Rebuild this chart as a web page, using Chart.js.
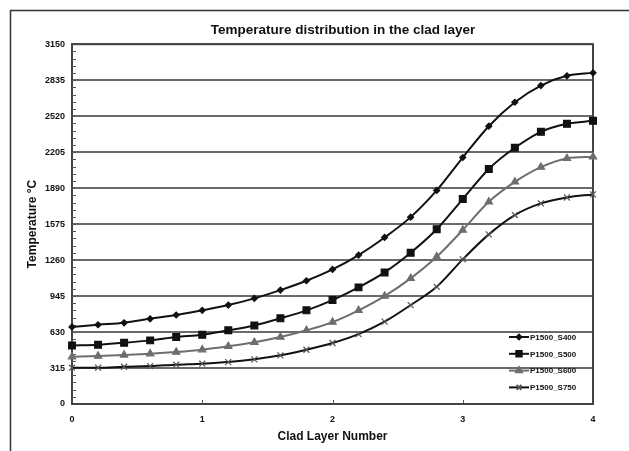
<!DOCTYPE html>
<html>
<head>
<meta charset="utf-8">
<script src="https://cdn.jsdelivr.net/npm/chart.js@4.4.1/dist/chart.umd.min.js"></script>
<style>
  html, body { margin: 0; padding: 0; background: #ffffff; }
  #wrap { width: 629px; height: 451px; }
</style>
</head>
<body>
<div id="wrap"><canvas id="chart" width="629" height="451"></canvas></div>
<script>
// Clad layer positions (x) and temperatures (°C) for each process setting
const layerPositions = [0, 0.2, 0.4, 0.6, 0.8, 1.0, 1.2, 1.4, 1.6, 1.8, 2.0, 2.2, 2.4, 2.6, 2.8, 3.0, 3.2, 3.4, 3.6, 3.8, 4.0];
const seriesNames = ['P1500_S400', 'P1500_S500', 'P1500_S600', 'P1500_S750'];
const tempS400 = [675, 694, 711, 746, 779, 820, 866, 925, 997, 1079, 1178, 1304, 1458, 1636, 1870, 2158, 2432, 2642, 2788, 2873, 2899];
const tempS500 = [513, 519, 536, 557, 586, 606, 645, 688, 750, 820, 910, 1021, 1152, 1324, 1530, 1794, 2058, 2243, 2383, 2453, 2479];
const tempS600 = [414, 420, 429, 440, 455, 475, 505, 540, 586, 645, 717, 820, 945, 1100, 1289, 1523, 1770, 1945, 2074, 2150, 2164];
const tempS750 = [318, 318, 326, 332, 344, 353, 367, 391, 426, 475, 534, 612, 721, 866, 1026, 1266, 1485, 1654, 1756, 1808, 1835];
const yTickValues = [0, 315, 630, 945, 1260, 1575, 1890, 2205, 2520, 2835, 3150];
const xTickValues = [0, 1, 2, 3, 4];
const yMinorStep = 63;

const FONT = "'Liberation Sans', Arial, sans-serif";

function toPoints(values) {
  return values.map((v, i) => ({ x: layerPositions[i], y: v }));
}

const styles = [
  { color: '#111111', pointColor: '#111111', pointStyle: 'rectRot', radius: 3 },
  { color: '#111111', pointColor: '#111111', pointStyle: 'rect', radius: 4.8 },
  { color: '#6e6e6e', pointColor: '#6e6e6e', pointStyle: 'triangle', radius: 4.2 },
  { color: '#111111', pointColor: '#555555', pointStyle: 'crossRot', radius: 4.2 }
];
const seriesValues = [tempS400, tempS500, tempS600, tempS750];

const datasets = seriesValues.map((vals, i) => ({
  label: seriesNames[i],
  data: toPoints(vals),
  borderColor: styles[i].color,
  backgroundColor: styles[i].pointColor,
  pointBackgroundColor: styles[i].pointColor,
  pointBorderColor: styles[i].pointColor,
  pointStyle: styles[i].pointStyle,
  pointRadius: styles[i].radius,
  pointBorderWidth: 1.2,
  borderWidth: 2,
  tension: 0.4,
  cubicInterpolationMode: 'monotone',
  fill: false,
  clip: false
}));

// Outer frame, plot box, inward minor ticks and the in-plot legend
const decorations = {
  id: 'decorations',
  afterLayout(chart) {
    const t = chart.titleBlock;
    if (t) {
      const shift = 343 - (t.left + t.right) / 2;
      t.left += shift;
      t.right += shift;
    }
  },
  beforeDraw(chart) {
    const ctx = chart.ctx;
    ctx.save();
    ctx.strokeStyle = '#333333';
    ctx.lineWidth = 1.5;
    ctx.beginPath();
    ctx.moveTo(10.5, chart.height);
    ctx.lineTo(10.5, 10.5);
    ctx.lineTo(chart.width, 10.5);
    ctx.stroke();
    ctx.restore();
  },
  beforeDatasetsDraw(chart) {
    const ctx = chart.ctx;
    const a = chart.chartArea;
    const ys = chart.scales.y;
    const xs = chart.scales.x;
    ctx.save();
    // plot box
    ctx.strokeStyle = '#444444';
    ctx.lineWidth = 2;
    ctx.strokeRect(a.left, a.top, a.right - a.left, a.bottom - a.top);
    // minor ticks on y axis
    ctx.strokeStyle = '#555555';
    ctx.lineWidth = 1;
    ctx.beginPath();
    for (let v = yMinorStep; v < ys.max; v += yMinorStep) {
      const py = Math.round(ys.getPixelForValue(v)) + 0.5;
      ctx.moveTo(a.left, py);
      ctx.lineTo(a.left + 4, py);
    }
    // inward ticks on x axis
    for (const v of xTickValues.slice(1, -1)) {
      const px = Math.round(xs.getPixelForValue(v)) + 0.5;
      ctx.moveTo(px, a.bottom);
      ctx.lineTo(px, a.bottom - 4);
    }
    ctx.stroke();
    ctx.restore();
  },
  afterDatasetsDraw(chart) {
    const ctx = chart.ctx;
    const a = chart.chartArea;
    ctx.save();
    // legend at the lower right of the plot
    const textX = a.right - 63;
    const lineX0 = textX - 21;
    const rowGap = 16.8;
    const firstRow = a.bottom - 67;
    ctx.font = 'bold 8px ' + FONT;
    ctx.textBaseline = 'middle';
    ctx.textAlign = 'left';
    chart.data.datasets.forEach((ds, i) => {
      const y = firstRow + i * rowGap;
      ctx.strokeStyle = ds.borderColor;
      ctx.lineWidth = 2;
      ctx.beginPath();
      ctx.moveTo(lineX0, y);
      ctx.lineTo(lineX0 + 20, y);
      ctx.stroke();
      ctx.fillStyle = ds.pointBackgroundColor;
      ctx.strokeStyle = ds.pointBorderColor;
      Chart.helpers.drawPoint(ctx, {
        pointStyle: ds.pointStyle,
        radius: ds.pointRadius * 0.8,
        rotation: 0,
        borderWidth: ds.pointBorderWidth
      }, lineX0 + 10, y);
      ctx.fillStyle = '#111111';
      ctx.fillText(ds.label, textX, y + 0.5);
    });
    ctx.restore();
  }
};

new Chart(document.getElementById('chart'), {
  type: 'line',
  data: { datasets },
  plugins: [decorations],
  options: {
    responsive: false,
    animation: false,
    devicePixelRatio: 1,
    layout: { padding: { left: 14, right: 36, top: 0, bottom: 0 } },
    plugins: {
      legend: { display: false },
      tooltip: { enabled: false },
      title: {
        display: true,
        text: 'Temperature distribution in the clad layer',
        color: '#111111',
        font: { family: FONT, size: 13.5, weight: 'bold', lineHeight: 1.2 },
        padding: { top: 22, bottom: 6 }
      }
    },
    scales: {
      x: {
        type: 'linear',
        min: 0,
        max: 4,
        afterBuildTicks: (s) => { s.ticks = xTickValues.map(v => ({ value: v })); },
        afterFit: (s) => { s.height = 47; },
        grid: { display: false, drawTicks: false },
        border: { display: true, color: '#444444', width: 2 },
        ticks: {
          color: '#111111',
          padding: 10,
          maxRotation: 0,
          callback: (v) => String(v),
          font: { family: FONT, size: 9, weight: 'bold' }
        },
        title: {
          display: true,
          text: 'Clad Layer Number',
          color: '#111111',
          font: { family: FONT, size: 12, weight: 'bold', lineHeight: 1.2 },
          padding: { top: 0, bottom: 7 }
        }
      },
      y: {
        min: 0,
        max: 3150,
        afterBuildTicks: (s) => { s.ticks = yTickValues.map(v => ({ value: v })); },
        afterFit: (s) => { s.width = 58; },
        grid: { color: '#6a6a6a', lineWidth: 2, drawTicks: false },
        border: { display: true, color: '#444444', width: 2 },
        ticks: {
          color: '#111111',
          padding: 7,
          callback: (v) => String(v),
          font: { family: FONT, size: 9, weight: 'bold' }
        },
        title: {
          display: true,
          text: 'Temperature °C',
          color: '#111111',
          font: { family: FONT, size: 12, weight: 'bold', lineHeight: 1.2 },
          padding: { top: 11, bottom: 0 }
        }
      }
    }
  }
});
</script>
</body>
</html>
